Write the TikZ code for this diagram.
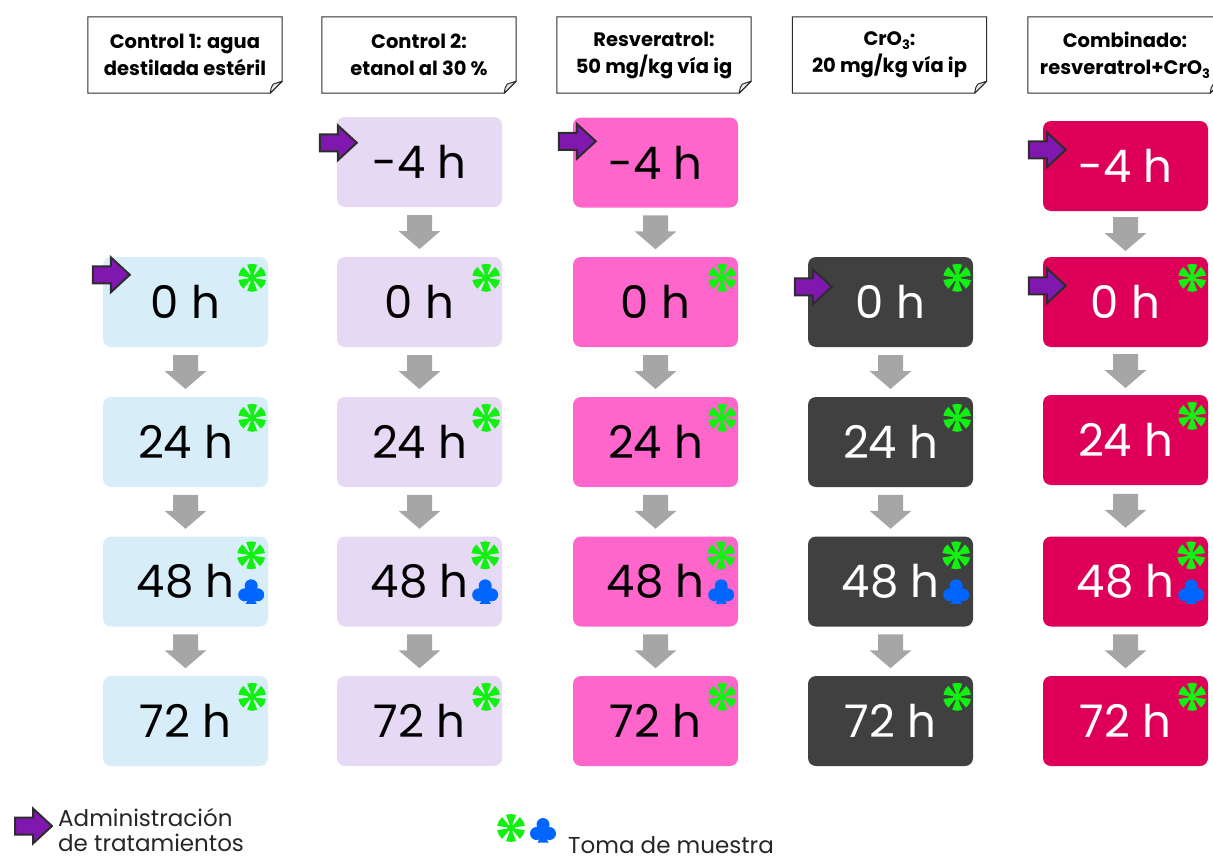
\documentclass[tikz,border=0pt]{standalone}
\usepackage{fontspec}
\setmainfont{Poppins}
\usetikzlibrary{calc}
\definecolor{cA}{RGB}{215,238,248}
\definecolor{cB}{RGB}{229,217,244}
\definecolor{cC}{RGB}{255,102,204}
\definecolor{cD}{RGB}{64,64,64}
\definecolor{cE}{RGB}{222,0,88}
\definecolor{grarrow}{RGB}{166,166,166}
\definecolor{purp}{RGB}{128,24,176}
\definecolor{edgedark}{RGB}{45,45,45}
\definecolor{astgreen}{RGB}{17,240,17}
\definecolor{clubblue}{RGB}{0,102,255}
\definecolor{foldgray}{RGB}{235,235,235}
\newcommand\lowthree{\raisebox{-0.35ex}{\fontsize{13}{13}\selectfont 3}}
\newcommand\garr[2]{\fill[grarrow] ($(#1.south)!0.5!(#2.north)$) ++(-12.5,-17) -- ++(25,0) -- ++(0,16) -- ++(8.5,0) -- ++(-21,18) -- ++(-21,-18) -- ++(8.5,0) -- cycle;}
\newcommand\hdrframe[1]{\filldraw[hdrline] (#1.north west) -- (#1.north east) -- ([yshift=12pt]#1.south east) -- ([xshift=-12pt]#1.south east) -- (#1.south west) -- cycle;
 \filldraw[hdrline,fill=foldgray,line join=round] ([xshift=-12pt]#1.south east) .. controls ([xshift=-11pt,yshift=6pt]#1.south east) .. ([xshift=-9pt,yshift=9pt]#1.south east) .. controls ([xshift=-5pt,yshift=11pt]#1.south east) .. ([yshift=12pt]#1.south east) -- cycle;}
\begin{document}
\begin{tikzpicture}[x=1pt,y=-1pt,
 tbox/.style={rounded corners=8pt, minimum width=165pt, minimum height=90pt, inner sep=0pt, font=\fontsize{45}{45}\selectfont},
 hdr/.style={minimum width=194pt, minimum height=76pt, inner sep=0pt, align=center, font=\fontsize{19.5}{27}\selectfont\bfseries},
 hdrline/.style={draw=edgedark, line width=1pt, fill=white},
 greenstar/.pic={\fill[astgreen] (0,0) circle (4pt);
   \foreach \a in {30,90,150,210,270,330} \fill[astgreen] (0,0) -- (\a-21:14) arc[start angle=\a-21, end angle=\a+21, radius=14] -- cycle;},
 clubsym/.pic={\fill[clubblue] (0,-5.5) circle (6.5pt) (-6.5,3.5) circle (6.5pt) (6.5,3.5) circle (6.5pt) (0,1) circle (4pt);
   \fill[clubblue] (0,2) -- (-5.5,12.5) -- (5.5,12.5) -- cycle;},
 admarrow/.pic={\filldraw[fill=purp, draw=edgedark, line width=2pt, line join=miter] (-37,-8.5) -- (-19,-8.5) -- (-19,-17.5) -- (0,0) -- (-19,17.5) -- (-19,8.5) -- (-37,8.5) -- cycle;},
 legtext/.style={inner sep=0pt, font=\fontsize{23}{25}\selectfont, text=black!85}
]
\useasboundingbox (0,0) rectangle (1213,859);

% headers
\node[hdr] (h1) at (185,55) {};
\node[hdr] (h2) at (419,55) {};
\node[hdr] (h3) at (654,55) {};
\node[hdr] (h4) at (889.5,55) {};
\node[hdr] (h5) at (1125,55) {};
\foreach \h in {h1,h2,h3,h4,h5} {\hdrframe{\h}}
\node[hdr] at (h1) {Control 1: agua\\destilada estéril};
\node[hdr] at (h2) {Control 2:\\etanol al 30 \%};
\node[hdr] at (h3) {Resveratrol:\\50 mg/kg vía ig};
\node[hdr] at (h4) {CrO\lowthree:\\20 mg/kg vía ip};
\node[hdr] at (h5) {Combinado:\\resveratrol+CrO\lowthree};

% column 1
\node[tbox, fill=cA] (a1) at (185.5,302) {0 h};
\node[tbox, fill=cA] (a2) at (185.5,442) {24 h};
\node[tbox, fill=cA] (a3) at (185.5,581.5) {48 h};
\node[tbox, fill=cA] (a4) at (185.5,721) {72 h};
% column 2
\node[tbox, fill=cB] (b0) at (419.5,162) {-4 h};
\node[tbox, fill=cB] (b1) at (419.5,302) {0 h};
\node[tbox, fill=cB] (b2) at (419.5,442) {24 h};
\node[tbox, fill=cB] (b3) at (419.5,581.5) {48 h};
\node[tbox, fill=cB] (b4) at (419.5,721) {72 h};
% column 3
\node[tbox, fill=cC] (c0) at (655.5,162.5) {-4 h};
\node[tbox, fill=cC] (c1) at (655.5,302) {0 h};
\node[tbox, fill=cC] (c2) at (655.5,442) {24 h};
\node[tbox, fill=cC] (c3) at (655.5,581.5) {48 h};
\node[tbox, fill=cC] (c4) at (655.5,721) {72 h};
% column 4
\node[tbox, fill=cD, text=white] (d1) at (890.5,302) {0 h};
\node[tbox, fill=cD, text=white] (d2) at (890.5,442) {24 h};
\node[tbox, fill=cD, text=white] (d3) at (890.5,581.5) {48 h};
\node[tbox, fill=cD, text=white] (d4) at (890.5,721) {72 h};
% column 5
\node[tbox, fill=cE, text=white] (e0) at (1125.5,166) {-4 h};
\node[tbox, fill=cE, text=white] (e1) at (1125.5,302) {0 h};
\node[tbox, fill=cE, text=white] (e2) at (1125.5,440) {24 h};
\node[tbox, fill=cE, text=white] (e3) at (1125.5,581.5) {48 h};
\node[tbox, fill=cE, text=white] (e4) at (1125.5,721) {72 h};

% gray connectors
\garr{a1}{a2}\garr{a2}{a3}\garr{a3}{a4}
\garr{b0}{b1}\garr{b1}{b2}\garr{b2}{b3}\garr{b3}{b4}
\garr{c0}{c1}\garr{c1}{c2}\garr{c2}{c3}\garr{c3}{c4}
\garr{d1}{d2}\garr{d2}{d3}\garr{d3}{d4}
\garr{e0}{e1}\garr{e1}{e2}\garr{e2}{e3}\garr{e3}{e4}

% sampling symbols
\foreach \n in {a1,a2,a4,b1,b2,b4,c1,c2,c4,d1,d2,d4,e1,e2,e4} {\pic at ([shift={(-16,21)}]\n.north east) {greenstar};}
\foreach \n in {a3,b3,c3,d3,e3} {\pic at ([shift={(-17,19)}]\n.north east) {greenstar}; \pic at ([shift={(-17,55)}]\n.north east) {clubsym};}

% administration arrows
\pic at ([shift={(27,18)}]a1.north west) {admarrow};
\pic at ([shift={(20,26)}]b0.north west) {admarrow};
\pic at ([shift={(23,24)}]c0.north west) {admarrow};
\pic at ([shift={(24,30)}]d1.north west) {admarrow};
\pic at ([shift={(23,29)}]e0.north west) {admarrow};
\pic at ([shift={(23,29)}]e1.north west) {admarrow};

% legend
\coordinate (la) at (52,826);
\pic at (la) {admarrow};
\node[legtext, anchor=base west] (lt1) at (58,826) {Administración};
\node[legtext, anchor=base west] (lt1b) at (58,851) {de tratamientos};
\pic at (511,828) {greenstar};
\pic at (543,830) {clubsym};
\node[legtext, anchor=base west] (lt2) at (568,853) {Toma de muestra};
\end{tikzpicture}
\end{document}
